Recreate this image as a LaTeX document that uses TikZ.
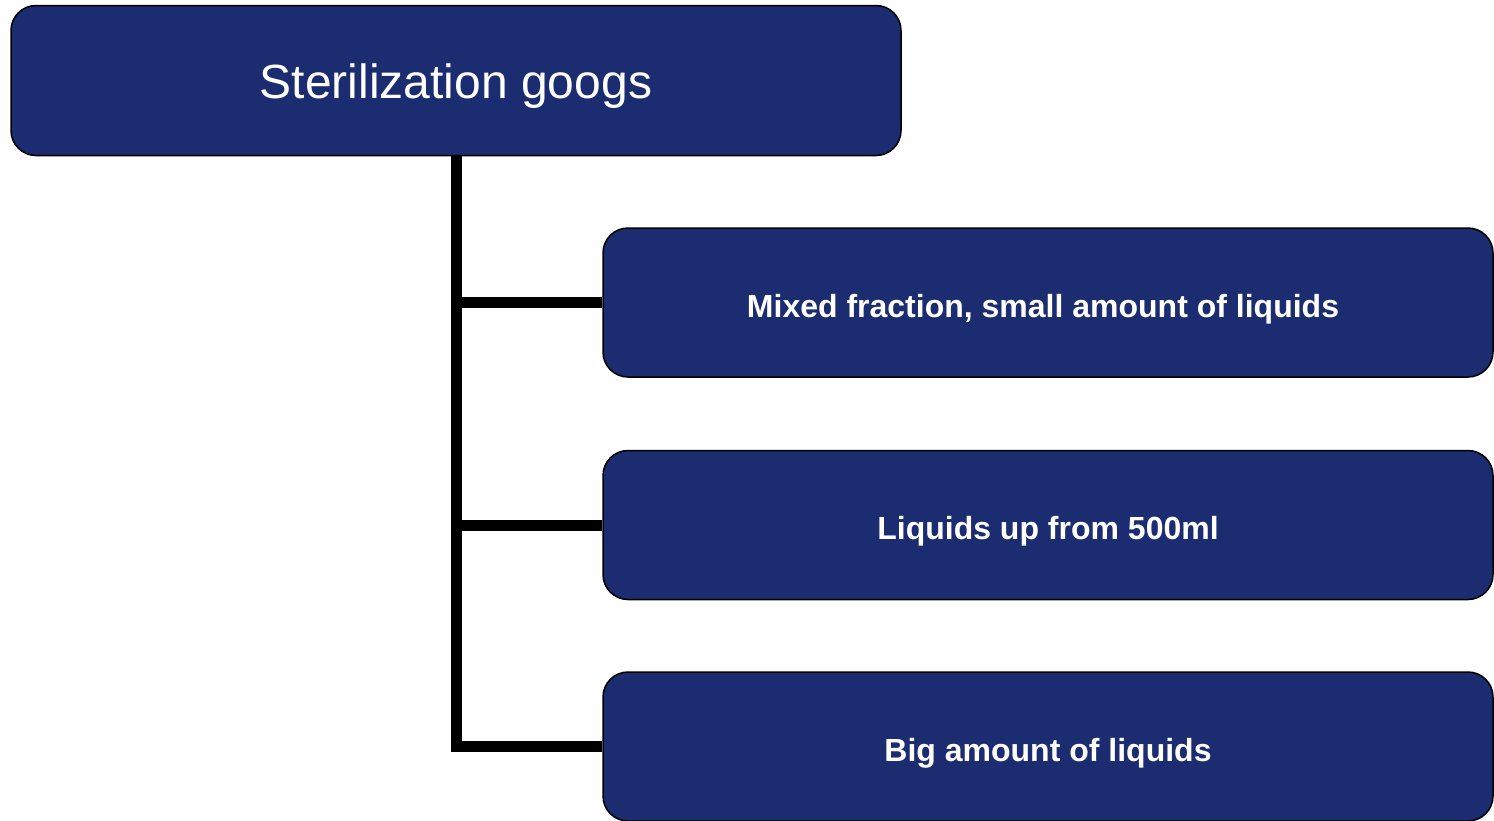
\documentclass[tikz,border=0pt]{standalone}
\usepackage{fontspec}
\setmainfont{Liberation Sans}
\definecolor{navy}{RGB}{27,44,112}
\begin{document}
\begin{tikzpicture}[x=0.5pt,y=-0.5pt,
  box/.style={draw=black,line width=0.75pt,fill=navy,rounded corners=12.5pt,
    text=white,inner sep=0pt,align=center},
  topbox/.style={box,minimum width=445pt,minimum height=75pt,text height=22pt,text depth=3.6pt,font=\fontsize{24}{28}\selectfont},
  childbox/.style={box,minimum width=445pt,minimum height=74.5pt,text height=16pt,text depth=1.5pt,font=\bfseries\fontsize{16}{19}\selectfont},
  conn/.style={draw=black,line width=5.5pt,line join=miter}]
\useasboundingbox (0,0) rectangle (1494,820);
\node[topbox] (top) at (456,80.5) {Sterilization googs};
\node[childbox] (c1) at (1048,302.5) {Mixed fraction, small amount of liquids\hspace{5pt}};
\node[childbox] (c2) at (1048,525) {Liquids up from 500ml};
\node[childbox] (c3) at (1048,746.5) {Big amount of liquids};
\draw[conn] (top.south) |- (c3.west);
\draw[conn] (top.south |- c1.west) -- (c1.west);
\draw[conn] (top.south |- c2.west) -- (c2.west);
\end{tikzpicture}
\end{document}
